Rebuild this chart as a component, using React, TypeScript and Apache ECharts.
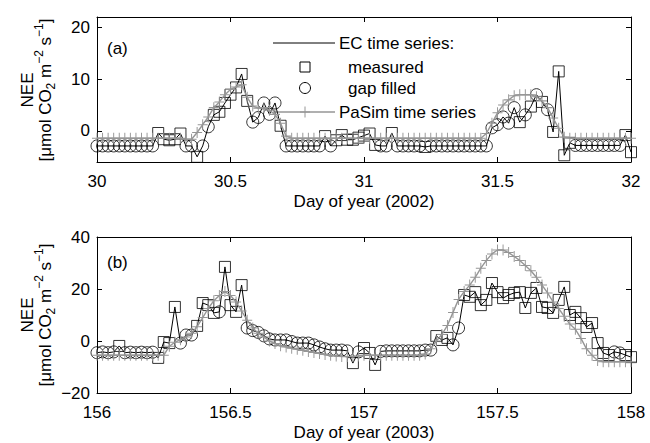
import React, { useEffect, useRef } from 'react';
import * as echarts from 'echarts';

// ---- data (half-hourly, 97 points per panel) ----
const STEP = 1 / 48;
const dayStartA = 30;
const dayStartB = 156;
const dayRange = 2;
const xInterval = 0.5;

const yRangeA = [-6, 22];
const yTicksA = [0, 10, 20];
const yRangeB = [-20, 40];
const yTicksB = [-20, 0, 20, 40];

// Panel (a) EC time series (measured + gap filled)
const ecA = [
  -2.9, -2.9, -2.9, -2.9, -2.9, -2.9, -2.9, -2.9, -2.9, -2.9, -2.9,
  -0.4, -1.6, -1.8, -1.6, -0.5,
  -2.9, -2.9,
  -5.0,
  -2.9, 0.8,
  3.1, 3.7, 5.4, 7.0, 8.4, 11.0, 5.8,
  1.7, 2.6, 5.4, 3.2, 5.4,
  1.0,
  -2.9, -2.9, -2.9, -2.9, -2.9, -2.9, -2.9,
  -1.0,
  -2.9,
  -1.8, -0.8, -1.7, -1.7, -1.3, -0.9, -0.5, -2.7,
  -2.9, -2.9,
  -0.4,
  -2.9, -2.9, -2.9, -2.9, -2.9,
  -3.1,
  -2.9, -2.9, -2.9, -2.9, -2.9, -2.9, -2.9, -2.9, -2.9, -2.9, -2.9, 0.6, 1.2, 2.7, 1.5, 4.5,
  1.7, 3.1, 4.7, 7.0, 5.6, 4.1,
  -0.2, 11.5, -4.7, -2.3,
  -2.8, -2.8, -2.8, -2.8, -2.8, -2.8, -2.8, -2.8, -2.8,
  -0.8, -4.1,
];
// m = measured, g = gap filled
const kindA = [
  'ggggggggggg', 'mmmmm', 'gg', 'm', 'gg', 'mmmmmmm', 'ggggg', 'm', 'ggggggg', 'm', 'g',
  'mmmmmmmm', 'gg', 'm', 'ggggg', 'm', 'gggggggggggggggg', 'mgmgmg', 'mmmm', 'ggggggggg', 'mm',
].join('');
const pasimA = [
  -1.4, -1.4, -1.4, -1.4, -1.4, -1.4, -1.4, -1.4, -1.4, -1.4, -1.4, -1.4, -1.4, -1.4, -1.4, -1.4,
  -1.6, -1.6,
  -0.3, 1.2, 2.7, 4.5, 5.6, 7.0, 8.0, 8.5, 8.9, 6.5, 4.8, 4.4, 4.5, 4.0, 3.2, 1.5, -1.0,
  -1.4, -1.4, -1.4, -1.4, -1.4, -1.4, -1.4, -1.4, -1.4, -1.4, -1.4, -1.4, -1.4, -1.4, -1.4, -1.4, -1.4, -1.4,
  -1.4, -1.4, -1.4, -1.4, -1.4, -1.4, -1.4, -1.4, -1.4, -1.4, -1.4, -1.4, -1.4, -1.4, -1.4, -1.4, -1.4,
  -0.5, 1.5, 3.5, 5.0, 6.0, 6.8, 7.0, 7.0, 7.0, 6.6, 5.8, 4.5, 2.5, 0.5, -1.2,
  -1.4, -1.4, -1.4, -1.4, -1.4, -1.4, -1.4, -1.4, -1.4, -1.4, -1.4, -1.4,
];

// Panel (b)
const ecB = [
  -4.5, -4.2, -4.5, -4.2,
  -1.9,
  -4.5, -4.3, -4.5, -4.3, -4.5, -4.3,
  -6.5, -0.4, -0.8, 13.1,
  -0.8, 2.3, 2.3,
  5.8, 14.6, 13.8, 10.8,
  11.2,
  28.5, 13.8, 11.2, 21.5,
  5.0, 4.0, 3.3, 2.0, 0.8, 0.4, 0.4, 0.4, -0.2, -0.8, -0.8, -0.8, -1.5, -2.3, -3.0, -3.5, -3.5, -3.5, -3.8,
  -8.5,
  -4.2,
  -2.7, -4.6, -9.2,
  -4.0, -3.8, -3.8, -3.8, -3.8, -3.8, -3.8, -3.8, -3.5, -3.5,
  1.9, 0.4, 1.2,
  -1.5, 5.0,
  17.7, 17.0, 18.8, 13.8, 15.8, 22.3, 18.8, 16.5, 17.7, 18.5, 18.8, 12.7, 18.5, 20.4,
  13.1, 12.7, 10.8, 15.8, 20.8, 10.0, 11.2, 8.8, 5.4, 6.9, -0.8, -4.6, -5.4,
  -4.2, -4.6,
  -5.4, -6.2,
];
const kindB = [
  'gggg', 'm', 'gggggg', 'mmmm', 'ggg', 'mmmm', 'g', 'mmmm', 'ggggggggggggggggggg', 'm', 'g', 'mmm',
  'gggggggggg', 'mmm', 'gg', 'mmmmmmmmmmmmmmmmmmmmmmmmmmm', 'gg', 'mm',
].join('');
const pasimB = [
  -5.5, -5.5, -5.5, -5.5, -5.5, -5.5, -5.5, -5.5, -5.5, -5.5, -5.5, -5.5, -5.5,
  -2.0, -0.5, 0.5, 1.5, 3.0, 5.5, 9.0, 12.5, 15.5, 17.5, 19.0, 17.5, 15.0, 11.5, 8.0, 5.0,
  3.0, 1.5, 0.0, -1.0, -1.8, -2.3, -2.8, -3.2, -3.6, -4.0, -4.4, -4.8, -5.2, -5.5, -5.8, -6.0, -6.0, -6.0, -5.8,
  -5.5, -5.5, -5.5, -5.5, -5.5, -5.5, -5.5, -5.5, -5.5, -5.5, -5.5,
  -5.0, -3.0, 0.0, 2.5, 6.0, 11.0, 16.0, 19.0, 21.5, 24.5, 28.0, 31.0, 33.5, 35.0, 35.0, 34.0,
  32.5, 31.0, 29.0, 27.0, 24.5, 21.5, 18.5, 15.0, 12.5, 9.5, 6.5, 4.5, 1.0, -3.0, -5.5, -7.5,
  -8.0, -8.0, -8.0, -8.0, -8.0, -8.0,
];

const xNameA = 'Day of year (2002)';
const xNameB = 'Day of year (2003)';

// ---- styling ----
const FONT = "'Liberation Sans', Arial, Helvetica, sans-serif";
const GRAY = '#969696';
const FS = 17;
const PLUS = 'path://M5,0 L5,10 M0,5 L10,5';

function pairs(start: number, vals: number[]) {
  return vals.map((v, i) => [start + i * STEP, v]);
}
function pick(start: number, vals: number[], kinds: string, k: string) {
  const out: number[][] = [];
  vals.forEach((v, i) => {
    if (kinds[i] === k) out.push([start + i * STEP, v]);
  });
  return out;
}
const minusFmt = (v: number) => String(v).replace('-', '\u2212');

function xAxes(grid: number, min: number, name: string) {
  const base: any = {
    type: 'value',
    gridIndex: grid,
    min,
    max: min + dayRange,
    interval: xInterval,
    splitLine: { show: false },
    axisLine: { show: true, onZero: false, lineStyle: { color: '#000', width: 1 } },
    axisTick: { show: true, inside: true, length: 5, lineStyle: { color: '#000', width: 1 } },
  };
  return [
    {
      ...base,
      position: 'bottom',
      axisLabel: { show: true, color: '#000', fontSize: FS, fontFamily: FONT, margin: 11 },
      name,
      nameLocation: 'middle',
      nameGap: 31,
      nameTextStyle: { color: '#000', fontSize: FS, fontFamily: FONT },
    },
    { ...base, position: 'top', axisLabel: { show: false } },
  ];
}
function yAxes(grid: number, range: number[], ticks: number[]) {
  const base: any = {
    type: 'value',
    gridIndex: grid,
    min: range[0],
    max: range[1],
    splitLine: { show: false },
    axisLine: { show: true, onZero: false, lineStyle: { color: '#000', width: 1 } },
    axisTick: { show: true, inside: true, length: 5, customValues: ticks, lineStyle: { color: '#000', width: 1 } },
  };
  return [
    {
      ...base,
      position: 'left',
      axisLabel: {
        show: true, customValues: ticks, color: '#000', fontSize: FS, fontFamily: FONT, margin: 7,
        formatter: minusFmt,
      },
    },
    { ...base, position: 'right', axisLabel: { show: false } },
  ];
}
function panelSeries(ax: number, start: number, ec: number[], kinds: string, pasim: number[]) {
  return [
    {
      type: 'line', xAxisIndex: ax, yAxisIndex: ax, data: pairs(start, ec), showSymbol: false,
      lineStyle: { color: '#000', width: 1 }, z: 2, silent: true,
    },
    {
      type: 'scatter', xAxisIndex: ax, yAxisIndex: ax, data: pick(start, ec, kinds, 'm'),
      symbol: 'rect', symbolSize: 11,
      itemStyle: { color: 'rgba(0,0,0,0)', borderColor: '#000', borderWidth: 1 }, z: 3, silent: true,
    },
    {
      type: 'scatter', xAxisIndex: ax, yAxisIndex: ax, data: pick(start, ec, kinds, 'g'),
      symbol: 'circle', symbolSize: 12,
      itemStyle: { color: 'rgba(0,0,0,0)', borderColor: '#000', borderWidth: 1 }, z: 3, silent: true,
    },
    {
      type: 'line', xAxisIndex: ax, yAxisIndex: ax, data: pairs(start, pasim),
      showSymbol: true, showAllSymbol: true, symbol: PLUS, symbolSize: [10, 11],
      lineStyle: { color: GRAY, width: 1.4 },
      itemStyle: { color: GRAY, borderColor: GRAY, borderWidth: 1 }, z: 4, silent: true,
    },
  ];
}

const richUnit = {
  n: { fontSize: FS, fontFamily: FONT, fill: '#000', lineHeight: 24, verticalAlign: 'middle' },
  sup: { fontSize: 12, fontFamily: FONT, fill: '#000', lineHeight: 12, verticalAlign: 'top' },
  sub: { fontSize: 12, fontFamily: FONT, fill: '#000', lineHeight: 12, verticalAlign: 'bottom' },
};
const unitText = '{n|[\u03bcmol CO}{sub|2}{n| m}{sup|\u22122}{n| s}{sup|\u22121}{n|]}';

function yTitle(cy: number) {
  return [
    {
      type: 'text', x: 27, y: cy, rotation: Math.PI / 2, silent: true,
      style: { text: 'NEE', fontSize: FS, fontFamily: FONT, fill: '#000', align: 'center', verticalAlign: 'middle' },
    },
    {
      type: 'text', x: 45, y: cy, rotation: Math.PI / 2, silent: true,
      style: { text: unitText, rich: richUnit, fontSize: FS, fontFamily: FONT, fill: '#000', align: 'center', verticalAlign: 'middle' },
    },
  ];
}
function legendText(x: number, y: number, t: string) {
  return {
    type: 'text', x, y, silent: true,
    style: { text: t, fontSize: FS, fontFamily: FONT, fill: '#000', align: 'left', verticalAlign: 'middle' },
  };
}

export default function App() {
  const ref = useRef<HTMLDivElement>(null);
  useEffect(() => {
    if (!ref.current) return;
    const chart = echarts.init(ref.current, null, { renderer: 'svg' });
    const option: any = {
      animation: false,
      backgroundColor: '#fff',
      textStyle: { fontFamily: FONT },
      grid: [
        { left: 97, top: 17, width: 534, height: 145 },
        { left: 97, top: 237, width: 534, height: 156 },
      ],
      xAxis: [...xAxes(0, dayStartA, xNameA), ...xAxes(1, dayStartB, xNameB)],
      yAxis: [...yAxes(0, yRangeA, yTicksA), ...yAxes(1, yRangeB, yTicksB)],
      series: [
        ...panelSeries(0, dayStartA, ecA, kindA, pasimA),
        ...panelSeries(2, dayStartB, ecB, kindB, pasimB),
      ],
      graphic: [
        ...yTitle(90),
        ...yTitle(315),
        legendText(107, 48, '(a)'),
        legendText(107, 262, '(b)'),
        // legend
        { type: 'line', silent: true, shape: { x1: 273, y1: 43, x2: 335, y2: 43 }, style: { stroke: '#000', lineWidth: 1 } },
        legendText(339, 43, 'EC time series:'),
        { type: 'rect', silent: true, shape: { x: 300, y: 62, width: 10, height: 10 }, style: { fill: 'none', stroke: '#000', lineWidth: 1 } },
        legendText(348, 67, 'measured'),
        { type: 'circle', silent: true, shape: { cx: 305, cy: 88, r: 5.5 }, style: { fill: 'none', stroke: '#000', lineWidth: 1 } },
        legendText(348, 88, 'gap filled'),
        { type: 'line', silent: true, shape: { x1: 273, y1: 112, x2: 335, y2: 112 }, style: { stroke: GRAY, lineWidth: 1.4 } },
        { type: 'line', silent: true, shape: { x1: 305, y1: 106.5, x2: 305, y2: 117.5 }, style: { stroke: GRAY, lineWidth: 1 } },
        { type: 'line', silent: true, shape: { x1: 300, y1: 112, x2: 310, y2: 112 }, style: { stroke: GRAY, lineWidth: 1 } },
        legendText(339, 112, 'PaSim time series'),
      ],
    };
    chart.setOption(option);
    return () => chart.dispose();
  }, []);
  return <div ref={ref} style={{ position: 'absolute', left: 0, top: 0, width: 650, height: 443 }} />;
}
